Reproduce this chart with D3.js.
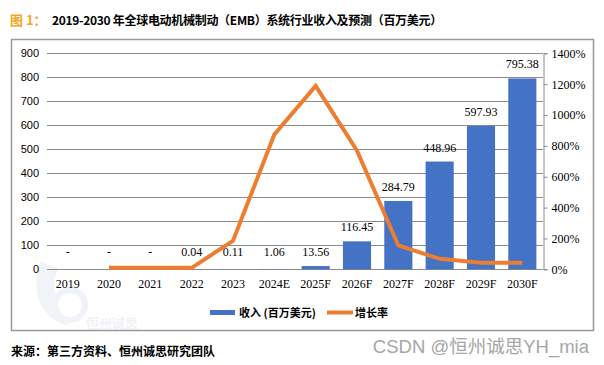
<!DOCTYPE html>
<html><head><meta charset="utf-8">
<script src="https://cdn.jsdelivr.net/npm/d3@7"></script>
<style>html,body{margin:0;padding:0;background:#fff;}svg{display:block;}</style>
</head><body>
<svg id="c" width="604" height="365"></svg>
<script>
const categories = ["2019","2020","2021","2022","2023","2024E","2025F","2026F","2027F","2028F","2029F","2030F"];
const revenue = [0, 0, 0, 0.04, 0.11, 1.06, 13.56, 116.45, 284.79, 448.96, 597.93, 795.38];
const revenueLabels = ["-","-","-","0.04","0.11","1.06","13.56","116.45","284.79","448.96","597.93","795.38"];
const growth = [null, 0, 0, 0, 175, 864, 1179, 759, 145, 58, 33, 33];
const leftTicks = [0,100,200,300,400,500,600,700,800,900];
const rightTicks = [0,200,400,600,800,1000,1200,1400];
const seriesNames = ["收入 (百万美元)", "增长率"];

const svg = d3.select("#c");
const serif = "'Liberation Serif','Times New Roman',serif";
const cjk = "'Noto Sans CJK SC',sans-serif";

// title
const t = svg.append("text").attr("x",10).attr("y",25).attr("font-family",cjk).attr("font-size",13).attr("font-weight","bold");
t.append("tspan").attr("fill","#F5A623").text("图 1：");
t.append("tspan").attr("x",52).attr("fill","#000").attr("font-size",12).attr("letter-spacing",-0.3)
  .text("2019-2030 年全球电动机械制动（EMB）系统行业收入及预测（百万美元）");

// frame
svg.append("rect").attr("x",11.5).attr("y",39.5).attr("width",582).attr("height",291).attr("fill","none").attr("stroke","#999").attr("stroke-width",1.5);

// watermark logo
const wm = svg.append("g").attr("opacity",0.45);
wm.append("path").attr("d","M40,262 C30,290 40,320 70,326 C55,312 50,290 58,268 Z").attr("fill","#dfe5f0");
wm.append("circle").attr("cx",70).attr("cy",305).attr("r",15).attr("fill","none").attr("stroke","#dfe5f0").attr("stroke-width",6);
wm.append("text").attr("x",86).attr("y",328).attr("font-family",cjk).attr("font-size",13).attr("font-weight","bold").attr("fill","#dfe5f0").text("恒州诚思");

const x = d3.scaleBand().domain(categories).range([47,543]).paddingInner(0.32).paddingOuter(0.16);
const y = d3.scaleLinear().domain([0,900]).range([269.3,53.3]);
const y2 = d3.scaleLinear().domain([0,1400]).range([269.3,53.3]);

// grid
svg.append("g").selectAll("line").data(leftTicks).join("line")
  .attr("x1",47).attr("x2",543).attr("y1",d=>Math.round(y(d))+0.5).attr("y2",d=>Math.round(y(d))+0.5)
  .attr("stroke","#8c8c8c").attr("stroke-width",1);

// left axis labels
const la = svg.append("g").attr("transform","translate(47,0)")
  .call(d3.axisLeft(y).tickValues(leftTicks).tickSize(0).tickPadding(8));
la.select(".domain").remove();
la.selectAll("text").attr("font-family","'Liberation Sans',Arial,sans-serif").attr("font-size",11).attr("fill","#000");

// right axis
const ra = svg.append("g").attr("transform","translate(543.5,0)")
  .call(d3.axisRight(y2).tickValues(rightTicks).tickSize(4).tickPadding(4).tickFormat(d=>d+"%"));
ra.select(".domain").attr("stroke","#8c8c8c");
ra.selectAll("line").attr("stroke","#8c8c8c");
ra.selectAll("text").attr("font-family",serif).attr("font-size",12).attr("fill","#000");

// bars
svg.append("g").selectAll("rect").data(categories).join("rect")
  .attr("x",d=>x(d)).attr("width",x.bandwidth())
  .attr("y",(d,i)=>y(revenue[i])).attr("height",(d,i)=>y(0)-y(revenue[i]))
  .attr("fill","#4472C4");

// bar labels
svg.append("g").selectAll("text").data(categories).join("text")
  .attr("x",d=>x(d)+x.bandwidth()/2)
  .attr("y",(d,i)=>Math.min(y(revenue[i]), 266)-10)
  .attr("text-anchor","middle").attr("font-family",serif).attr("font-size",12).attr("fill","#000")
  .text((d,i)=>revenueLabels[i]);

// x labels
svg.append("g").selectAll("text").data(categories).join("text")
  .attr("x",d=>x(d)+x.bandwidth()/2).attr("y",288)
  .attr("text-anchor","middle").attr("font-family",serif).attr("font-size",12).attr("fill","#000")
  .text(d=>d);

// line
const pts = categories.map((c,i)=>({c,v:growth[i]})).filter(p=>p.v!==null);
svg.append("path").datum(pts)
  .attr("d",d3.line().x(p=>x(p.c)+x.bandwidth()/2).y(p=>y2(p.v)-1.5))
  .attr("fill","none").attr("stroke","#ED7D31").attr("stroke-width",4).attr("stroke-linejoin","miter");

// legend
const lg = svg.append("g");
lg.append("rect").attr("x",210).attr("y",310).attr("width",25).attr("height",5).attr("fill","#4472C4");
lg.append("text").attr("x",239).attr("y",316.5).attr("font-family",cjk).attr("font-size",11).attr("font-weight","bold").text(seriesNames[0]);
lg.append("line").attr("x1",327).attr("x2",353).attr("y1",312.5).attr("y2",312.5).attr("stroke","#ED7D31").attr("stroke-width",4);
lg.append("text").attr("x",355).attr("y",316.5).attr("font-family",cjk).attr("font-size",11).attr("font-weight","bold").text(seriesNames[1]);

// source
svg.append("text").attr("x",11).attr("y",356).attr("font-family",cjk).attr("font-size",12).attr("font-weight","bold").attr("fill","#000")
  .text("来源：第三方资料、恒州诚思研究团队");

// csdn watermark
svg.append("text").attr("x",589).attr("y",353).attr("text-anchor","end").attr("font-family","'Liberation Sans','Noto Sans CJK SC',sans-serif").attr("font-size",18.5).attr("fill","#a6a6a6")
  .text("CSDN @恒州诚思YH_mia");
</script>
</body></html>
